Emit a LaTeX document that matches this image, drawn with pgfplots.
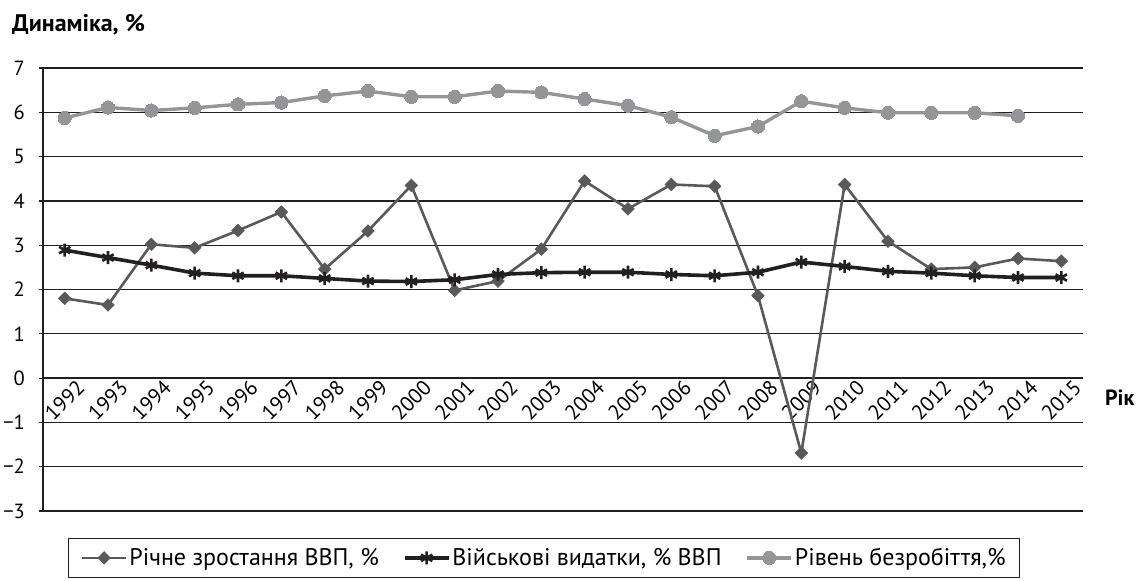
\documentclass[border=0pt]{standalone}
\usepackage{pgfplots}
\pgfplotsset{compat=1.18}
\usetikzlibrary{calc}
\usepackage{fontspec}
\setmainfont{PT Sans}
\definecolor{gdp}{HTML}{58595B}
\definecolor{mil}{HTML}{231F20}
\definecolor{unemp}{HTML}{939598}
\definecolor{gridc}{HTML}{231F20}
\begin{document}
\begin{tikzpicture}[x=1pt,y=1pt]
\begin{axis}[
  name=ax,
  scale only axis, width=1040pt, height=443pt,
  xmin=-0.5, xmax=23.5, ymin=-3, ymax=7,
  axis x line=middle, axis y line=left,
  axis line style={-, draw=gridc, line width=1.2pt},
  x axis line style={draw=none},
  xtick={0,...,23},
  xticklabels={1992,1993,1994,1995,1996,1997,1998,1999,2000,2001,2002,2003,2004,2005,2006,2007,2008,2009,2010,2011,2012,2013,2014,2015},
  x tick style={draw=none},
  x tick label style={rotate=45, anchor=east, font=\fontsize{21}{21}\selectfont, xshift=9pt, yshift=-14pt, inner sep=0pt},
  ytick={-3,...,7},
  yticklabels={−3,−2,−1,0,1,2,3,4,5,6,7},
  y tick label style={font=\fontsize{20.5}{20.5}\selectfont, anchor=east, xshift=-14pt, inner sep=0pt},
  ytick align=outside, major tick length=4pt,
  y tick style={draw=gridc, line width=1.2pt},
  ymajorgrids, grid style={draw=gridc, line width=1.3pt},
  clip=false,
  legend columns=3,
  legend style={at={(0.482,0)}, anchor=north, yshift=-27pt, draw=mil, line width=0.8pt,
    font=\fontsize{24}{24}\selectfont, inner xsep=12pt, inner ysep=8pt,
    /tikz/every even column/.append style={column sep=22pt},
    nodes={inner sep=2pt}},
  legend image code/.code={\draw[mark repeat=2,mark phase=2] plot coordinates {(0pt,0pt) (22pt,0pt) (44pt,0pt)};},
]
\addplot[color=gdp, line width=2.6pt, mark=square*, mark size=4.5pt, mark options={rotate=45, line width=0.5pt, fill=gdp}] coordinates {
(0,1.80) (1,1.65) (2,3.02) (3,2.94) (4,3.33) (5,3.75) (6,2.46) (7,3.32) (8,4.35) (9,1.98) (10,2.19) (11,2.91) (12,4.45) (13,3.82) (14,4.37) (15,4.33) (16,1.86) (17,-1.69) (18,4.37) (19,3.09) (20,2.46) (21,2.50) (22,2.70) (23,2.64)};
\addlegendentry{Річне зростання ВВП, \%}
\addplot[color=mil, line width=3.6pt, mark=asterisk, mark size=6.5pt, mark options={line width=2.6pt}] coordinates {
(0,2.89) (1,2.72) (2,2.55) (3,2.37) (4,2.31) (5,2.31) (6,2.25) (7,2.19) (8,2.18) (9,2.22) (10,2.34) (11,2.38) (12,2.39) (13,2.39) (14,2.34) (15,2.31) (16,2.39) (17,2.62) (18,2.52) (19,2.41) (20,2.37) (21,2.31) (22,2.27) (23,2.27)};
\addlegendentry{Військові видатки, \% ВВП}
\addplot[color=unemp, line width=3.4pt, mark=*, mark size=6.6pt, mark options={line width=0pt, fill=unemp}] coordinates {
(0,5.87) (1,6.11) (2,6.04) (3,6.10) (4,6.18) (5,6.22) (6,6.37) (7,6.48) (8,6.35) (9,6.35) (10,6.48) (11,6.45) (12,6.30) (13,6.15) (14,5.89) (15,5.47) (16,5.68) (17,6.25) (18,6.10) (19,5.99) (20,5.99) (21,5.99) (22,5.92)};
\addlegendentry{Рівень безробіття,\%}
\end{axis}
\node[anchor=base west, font=\fontsize{24}{24}\selectfont\bfseries, inner sep=0pt] at ($(ax.south west)+(-31,479)$) {Динаміка, \%};
\node[anchor=west, font=\fontsize{22}{22}\selectfont\bfseries, inner sep=0pt] at ($(ax.south west)+(1062,113)$) {Рік};
\pgfresetboundingbox
\path[use as bounding box] ($(ax.south west)+(-43,-70)$) rectangle ++(1141,581);
\end{tikzpicture}
\end{document}
